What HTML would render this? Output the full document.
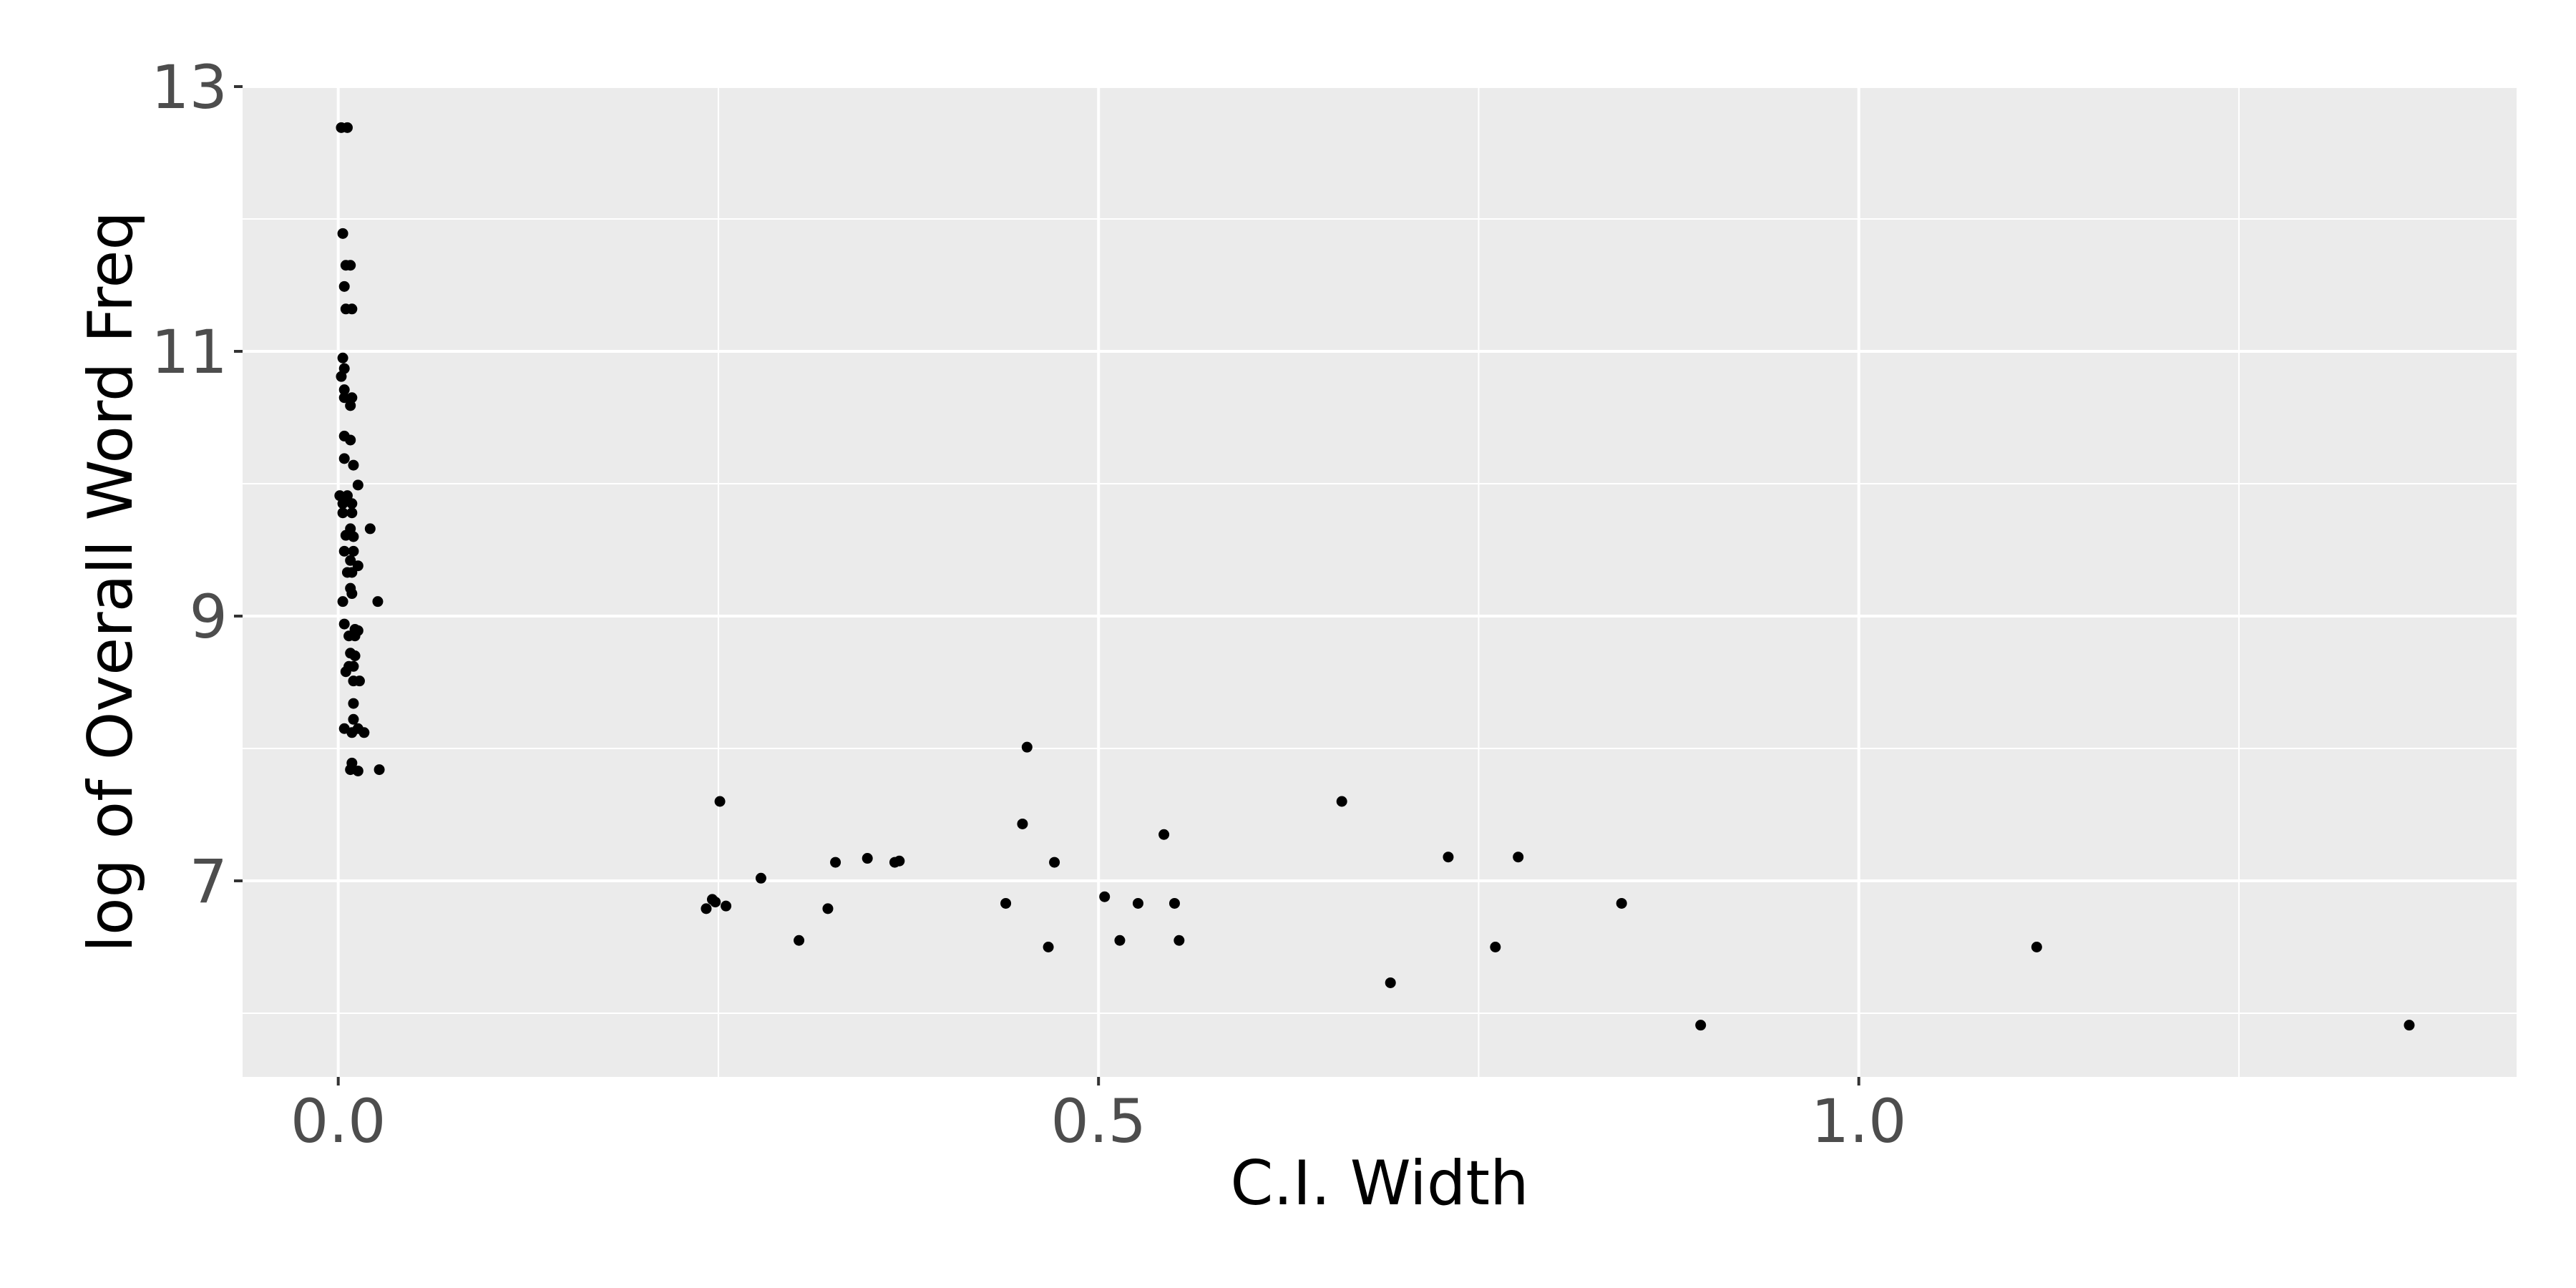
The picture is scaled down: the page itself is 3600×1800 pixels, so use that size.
<!DOCTYPE html>
<html><head><meta charset="utf-8"><style>
html,body{margin:0;padding:0;background:#fff;}
svg{display:block;font-family:"DejaVu Sans","Liberation Sans",sans-serif;}
</style></head><body>
<svg id="chart" width="3600" height="1800" viewBox="0 0 3600 1800" xmlns="http://www.w3.org/2000/svg">
<rect x="0" y="0" width="3600" height="1800" fill="#fff"/>
<rect x="339" y="121" width="3178" height="1384" fill="#ebebeb"/>
<g id="grid"></g>
<g id="points"></g>
<g id="axes"></g>
<text x="1928" y="1683" font-size="86" text-anchor="middle" fill="#000">C.I. Width</text>
<text transform="translate(184,813) rotate(-90)" font-size="86" text-anchor="middle" fill="#000">log of Overall Word Freq</text>
</svg>
<script>
const ciWidth = [0.002,0.006,0.003,0.005,0.008,0.004,0.005,0.009,0.003,0.004,0.002,0.004,0.004,0.009,0.008,0.004,0.008,0.004,0.010,0.013,0.001,0.006,0.003,0.009,0.003,0.009,0.008,0.021,0.005,0.010,0.004,0.010,0.008,0.013,0.006,0.009,0.008,0.009,0.003,0.026,0.004,0.011,0.013,0.007,0.011,0.008,0.011,0.007,0.010,0.005,0.010,0.014,0.010,0.010,0.004,0.009,0.013,0.017,0.009,0.013,0.027,0.008,
0.251,0.242,0.246,0.248,0.255,0.278,0.303,0.322,0.327,0.348,0.366,0.369,0.439,0.450,0.453,0.467,0.471,0.504,0.514,0.526,0.543,0.550,0.553,0.660,0.692,0.730,0.761,0.776,0.844,0.896,1.117,1.362];
const logFreq = [12.69,12.69,11.89,11.65,11.65,11.49,11.32,11.32,10.95,10.87,10.81,10.71,10.65,10.65,10.59,10.36,10.33,10.19,10.14,9.99,9.91,9.91,9.85,9.85,9.78,9.78,9.66,9.66,9.61,9.60,9.49,9.49,9.42,9.38,9.33,9.33,9.21,9.17,9.11,9.11,8.94,8.90,8.89,8.85,8.85,8.72,8.70,8.62,8.62,8.58,8.51,8.51,8.34,8.22,8.15,8.12,8.15,8.12,7.89,7.83,7.84,7.84,
7.60,6.79,6.86,6.84,6.81,7.02,6.55,6.79,7.14,7.17,7.14,7.15,6.83,7.43,8.01,6.50,7.14,6.88,6.55,6.83,7.35,6.83,6.55,7.60,6.23,7.18,6.50,7.18,6.83,5.91,6.50,5.91];
const xTicks = [0, 0.5, 1.0];
const xTickLabels = ["0.0", "0.5", "1.0"];
const xMinor = [0.25, 0.75, 1.25];
const yTicks = [7, 9, 11, 13];
const yTickLabels = ["7", "9", "11", "13"];
const yMinor = [6, 8, 10, 12];

const NS = "http://www.w3.org/2000/svg";
const PL = 339, PR = 3517, PT = 121, PB = 1505;
const sx = v => 472.7 + v * 2125;
const sy = v => 121 + (13 - v) * 185;
function mk(tag, attrs, parent) {
  const e = document.createElementNS(NS, tag);
  for (const k in attrs) e.setAttribute(k, attrs[k]);
  parent.appendChild(e);
  return e;
}
const grid = document.getElementById('grid');
const axes = document.getElementById('axes');
const pts = document.getElementById('points');
xMinor.forEach(v => {
  const l = mk('line', {x1: sx(v), x2: sx(v), y1: PT, y2: PB, stroke: '#fff', 'stroke-width': 2}, grid);
  
  
});
yMinor.forEach(v => {
  const l = mk('line', {x1: PL, x2: PR, y1: sy(v), y2: sy(v), stroke: '#fff', 'stroke-width': 2}, grid);
  
  
});
xTicks.forEach((v, i) => {
  const l = mk('line', {x1: sx(v), x2: sx(v), y1: PT, y2: PB, stroke: '#fff', 'stroke-width': 4}, grid);
  
  
  const t = mk('line', {x1: sx(v), x2: sx(v), y1: PB, y2: PB + 12, stroke: '#333', 'stroke-width': 4}, axes);
  
  
  const tx = mk('text', {x: sx(v), y: 1596, 'font-size': 84, 'text-anchor': 'middle', fill: '#4d4d4d'}, axes);
  tx.textContent = xTickLabels[i];
  
  
});
yTicks.forEach((v, i) => {
  const l = mk('line', {x1: PL, x2: PR, y1: sy(v), y2: sy(v), stroke: '#fff', 'stroke-width': 4}, grid);
  
  
  const t = mk('line', {x1: PL - 12, x2: PL, y1: sy(v), y2: sy(v), stroke: '#333', 'stroke-width': 4}, axes);
  
  
  const tx = mk('text', {x: 318, y: sy(v) + 30, 'font-size': 84, 'text-anchor': 'end', fill: '#4d4d4d'}, axes);
  tx.textContent = yTickLabels[i];
  
  
});
ciWidth.forEach((v, i) => {
  const c = mk('circle', {cx: sx(v), cy: sy(logFreq[i]), r: 7.5, fill: '#000'}, pts);
  
  
});
</script>
</body></html>
